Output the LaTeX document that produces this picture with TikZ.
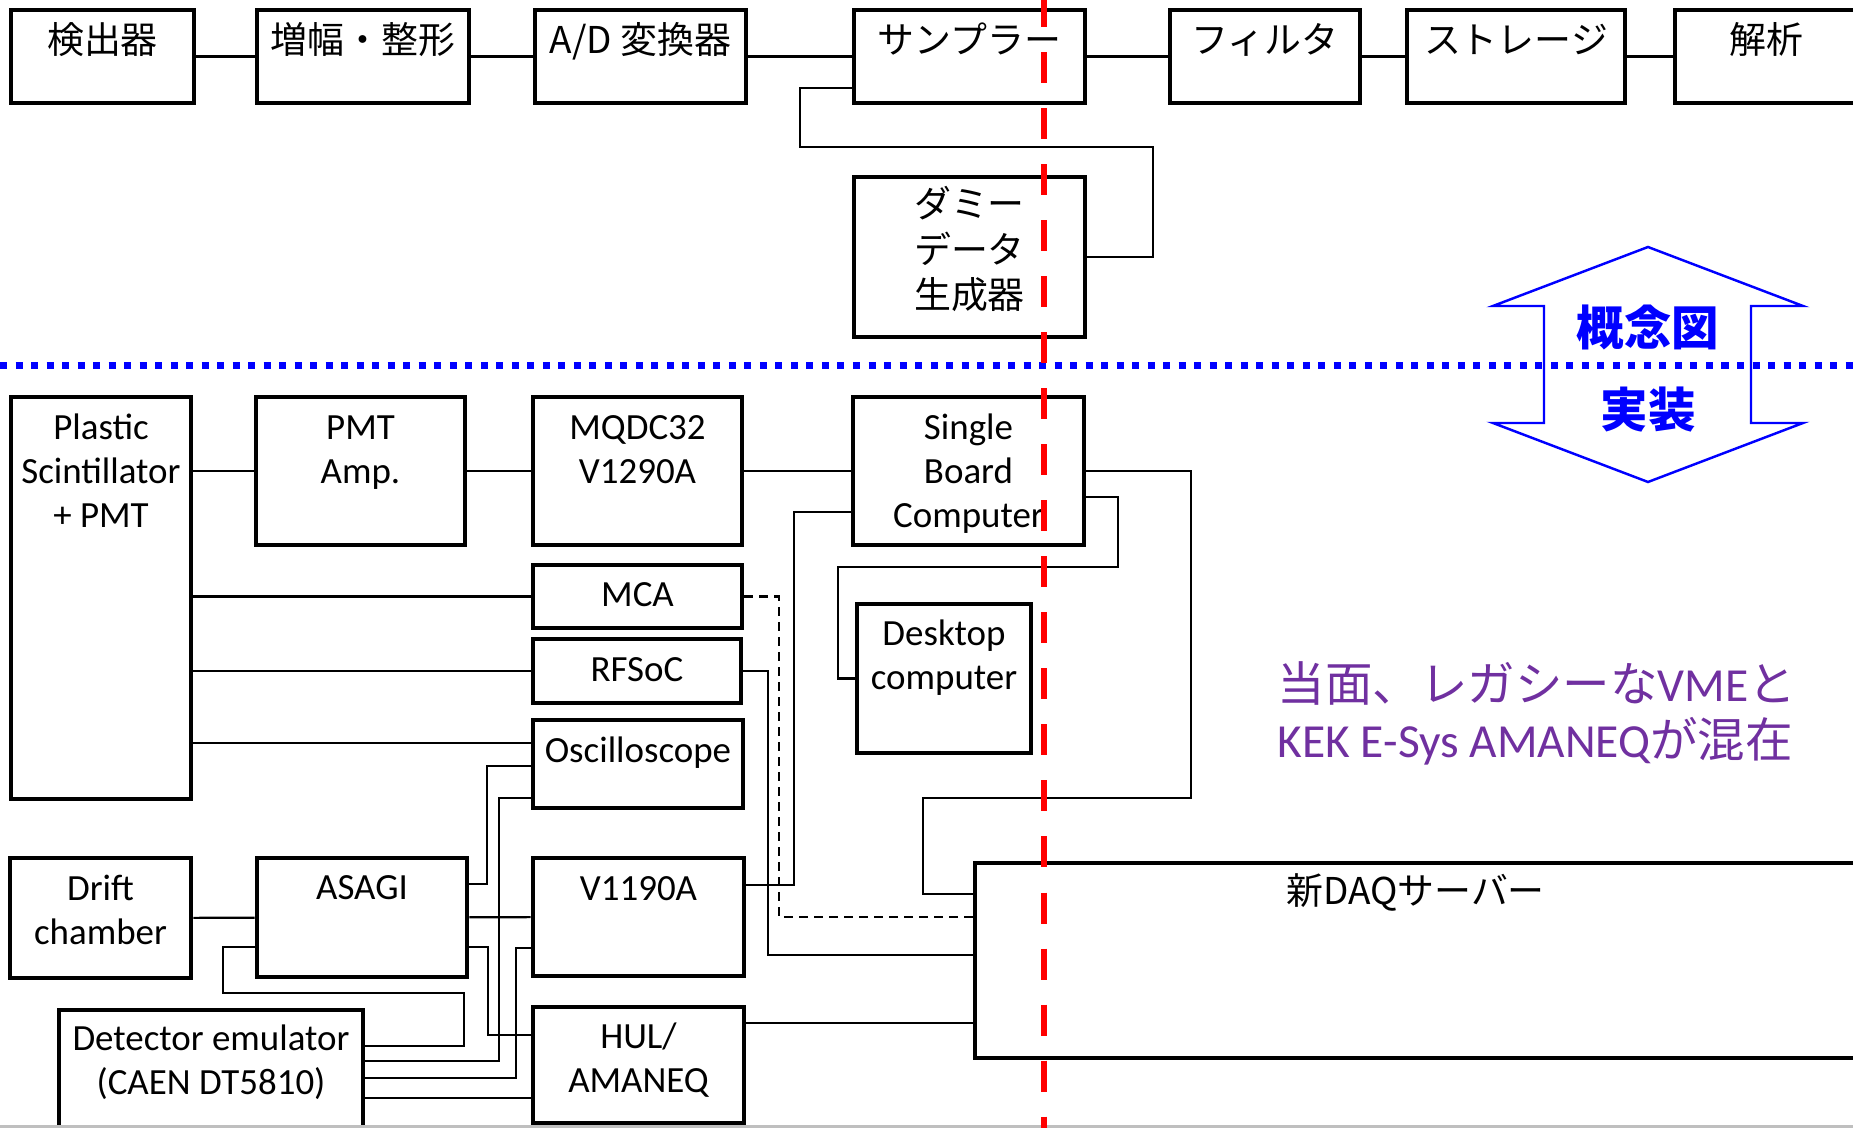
\documentclass[tikz,border=0pt]{standalone}
\usepackage{fontspec}
\setmainfont{Carlito}
\newfontfamily\jp{Noto Sans CJK JP}
\usetikzlibrary{fit}
\definecolor{memo}{RGB}{112,48,160}

\tikzset{
  blk/.style={draw, line width=1.3pt, inner sep=0pt},
  wire/.style={line width=0.6pt},
  lbl/.style={inner sep=0pt, align=center, anchor=base, font=\fontsize{10.5}{12.6}\selectfont},
  jlbl/.style={lbl, font=\jp\fontsize{10.5}{13}\selectfont},
  tag/.style={inner sep=0pt, text=blue, font=\jp\bfseries\fontsize{13.5}{15}\selectfont},
}

\begin{document}
\begin{tikzpicture}[x=0.01cm, y=-0.01cm]
  \useasboundingbox (0,0) rectangle (1853,1128);
  % concept chain
  \foreach \n/\xa/\xb/\t in {det/11/194/検出器, amp/257/469/増幅・整形, adc/535/746/{A/D 変換器},
      smp/854/1085/サンプラー, flt/1170/1360/フィルタ, sto/1407/1625/ストレージ, ana/1675/1857/解析}
  {
    \node[blk, fit={(\xa,10) (\xb,103)}] (\n) {};
    \node[jlbl] (\n-l) at (\n.north |- 0,54) {\t};
  }
  \foreach \a/\b in {det/amp, amp/adc, adc/smp, smp/flt, flt/sto, sto/ana}
    \draw[wire] (\a) -- (\b);
  % dummy data loop
  \node[blk, fit={(854,177) (1085,337)}] (dmy) {};
  \node[jlbl] (dmy-l) at (dmy.north |- 0,309) {ダミー\\データ\\生成器};
  \draw[wire] (smp.west |- 0,88) -- (800,88) |- (1153,147) |- (dmy.east);

  % implementation (last number = baseline of the last text line)
  \foreach \n/\xa/\ya/\xb/\yb/\yt/\t in {
      pla/11/397/191/799/528/{Plastic\\Scintillator\\+ PMT},
      pmt/256/397/465/545/484/{PMT\\Amp.},
      mqdc/533/397/742/545/484/{MQDC32\\V1290A},
      sbc/853/397/1084/545/528/{Single\\Board\\Computer},
      mca/533/565/742/628/607/MCA,
      rfs/533/639/741/703/682/RFSoC,
      osc/533/720/743/808/763/Oscilloscope,
      desk/857/604/1031/753/690/{Desktop\\computer},
      drift/10/858/191/978/945/{Drift\\chamber},
      asagi/257/858/467/977/900/ASAGI,
      v1190/533/858/744/976/901/V1190A,
      hul/533/1007/744/1123/1093/{HUL/\\AMANEQ},
      emu/59/1010/363/1140/1095/{Detector emulator\\(CAEN DT5810)}}
  {
    \node[blk, fit={(\xa,\ya) (\xb,\yb)}] (\n) {};
    \node[lbl] (\n-l) at (\n.north |- 0,\yt) {\t};
  }
  \node[blk, fit={(975,863) (1856,1058)}] (srv) {};
  \node[jlbl] (srv-l) at (srv.north |- 0,905) {新DAQサーバー};

  % front end
  \draw[wire] (pla.east |- pmt.west) -- (pmt.west);
  \foreach \a/\b in {pmt/mqdc, mqdc/sbc, drift/asagi, asagi/v1190}
    \draw[wire] (\a) -- (\b);
  \foreach \b in {mca, rfs}
    \draw[wire] (pla.east |- \b.west) -- (\b.west);
  \draw[wire] (pla.east |- 0,743) -- (osc.west |- 0,743);
  % single board computer links
  \draw[wire] (sbc.east) -| (1191,798) -| (923,894) -- (srv.west |- 0,894);
  \draw[wire] (sbc.east |- 0,497) -| (1118,567) -- (838,567) |- (desk.west);
  \draw[wire] (sbc.west |- 0,512) -| (794,885) -- (v1190.east |- 0,885);
  % into the server
  \draw[wire, dash pattern=on 0.9mm off 0.6mm] (mca.east) -| (779,917) -- (srv.west |- 0,917);
  \draw[wire] (rfs.east) -| (768,955) -- (srv.west |- 0,955);
  \draw[wire] (hul.east |- 0,1023) -- (srv.west |- 0,1023);
  % chamber and emulator signals
  \draw[wire] (osc.west |- 0,766) -| (487,884) -- (asagi.east |- 0,884);
  \draw[wire] (osc.west |- 0,798) -| (499,1061) -- (emu.east |- 0,1061);
  \draw[wire] (asagi.east |- 0,947) -| (488,1035) -- (hul.west |- 0,1035);
  \draw[wire] (v1190.west |- 0,948) -| (516,1078) -- (emu.east |- 0,1078);
  \draw[wire] (emu.east |- 0,1098) -- (hul.west |- 0,1098);
  \draw[wire] (asagi.west |- 0,947) -| (223,993) -| (464,1046) -- (emu.east |- 0,1046);

  % concept / implementation border
  \draw[blue, line width=0.7mm, dash pattern=on 0.7mm off 0.85mm] (0,365.5) -- (1853,365.5);
  \draw[blue, line width=0.7pt] (1648,247) -- (1803,306) -- (1751,306) -- (1751,423) -- (1803,423)
    -- (1648,482) -- (1493,423) -- (1544,423) -- (1544,306) -- (1493,306) -- cycle;
  \node[tag] (concept) at (1648,327) {概念図};
  \node[tag] (impl) at (1648,410) {実装};

  \node[anchor=base west, align=left, inner sep=0pt, text=memo, font=\fontsize{13.5}{16}\selectfont]
    (note) at (1277,758) {{\jp 当面、レガシーな}VME{\jp と}\\KEK E-Sys AMANEQ{\jp が混在}};

  \draw[black!25, line width=0.4mm] (0,1127) -- (1853,1127);
  \draw[red, line width=1.7pt, dash pattern=on 3.1mm off 2.5mm] (1044,-4) -- (1044,1128);
\end{tikzpicture}
\end{document}
